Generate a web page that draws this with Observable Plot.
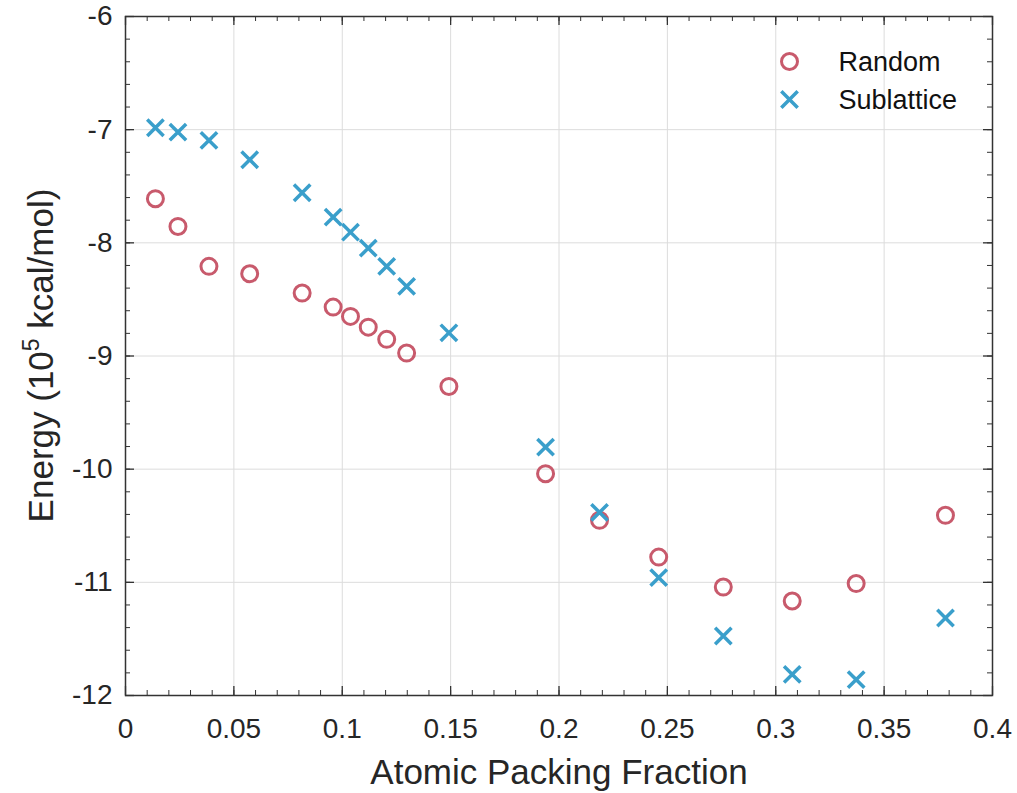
<!DOCTYPE html>
<html><head><meta charset="utf-8">
<script src="https://cdn.jsdelivr.net/npm/d3@7"></script>
<script src="https://cdn.jsdelivr.net/npm/@observablehq/plot@0.6"></script>
<style>body{margin:0;background:#fff}svg{display:block}</style>
</head><body><div id="chart"></div>
<script>
const packing = [0.0138, 0.0242, 0.0385, 0.0573, 0.0815, 0.0958, 0.1038, 0.112, 0.1205, 0.1297, 0.1492, 0.1938, 0.2187, 0.246, 0.2758, 0.3076, 0.3371, 0.3783];
const randomE = [-7.61, -7.855, -8.208, -8.273, -8.444, -8.568, -8.65, -8.745, -8.853, -8.974, -9.269, -10.04, -10.452, -10.777, -11.042, -11.165, -11.011, -10.408];
const sublatticeE = [-6.983, -7.022, -7.095, -7.266, -7.557, -7.773, -7.906, -8.047, -8.208, -8.385, -8.795, -9.805, -10.382, -10.958, -11.474, -11.813, -11.86, -11.315];
const xTicks = [0, 0.05, 0.1, 0.15, 0.2, 0.25, 0.3, 0.35, 0.4];
const yTicks = [-12, -11, -10, -9, -8, -7, -6];
const xMinor = d3.range(0, 41).map(i => i / 100);
const yMinor = d3.range(0, 31).map(i => -12 + i * 0.2);
const seriesNames = ["Random", "Sublattice"];
const colors = ["#c85a6c", "#3a9fcb"];

const font = "Liberation Sans, Arial, Helvetica, sans-serif";
const randomData = packing.map((x, i) => ({x, y: randomE[i]}));
const subData = packing.map((x, i) => ({x, y: sublatticeE[i]}));
const axisColor = "#333333";

const plot = Plot.plot({
  width: 1017, height: 793,
  marginLeft: 125, marginRight: 25, marginTop: 16, marginBottom: 98,
  style: {fontFamily: font, fontSize: "28px", color: "#262626", background: "#fff"},
  x: {domain: [0, 0.4]},
  y: {domain: [-12, -6]},
  marks: [
    Plot.gridX(xTicks, {stroke: "#dcdcdc", strokeOpacity: 1, strokeWidth: 1}),
    Plot.gridY(yTicks, {stroke: "#dcdcdc", strokeOpacity: 1, strokeWidth: 1}),
    Plot.axisX(xTicks, {tickFormat: d => String(d), tickSize: 0, tickPadding: 23, fontSize: 28, fill: "#262626", label: null}),
    Plot.axisY(yTicks, {tickFormat: d => String(d), tickSize: 0, tickPadding: 13, fontSize: 28, fill: "#262626", label: null}),
    // minor ticks (inward)
    Plot.ruleX(xMinor, {x: d => d, insetTop: 679 - 5, stroke: axisColor, strokeWidth: 1}),
    Plot.ruleX(xMinor, {x: d => d, insetBottom: 679 - 5, stroke: axisColor, strokeWidth: 1}),
    Plot.ruleY(yMinor, {y: d => d, insetRight: 867 - 5, stroke: axisColor, strokeWidth: 1}),
    Plot.ruleY(yMinor, {y: d => d, insetLeft: 867 - 5, stroke: axisColor, strokeWidth: 1}),
    // major ticks
    Plot.ruleX(xTicks, {x: d => d, insetTop: 679 - 9, stroke: axisColor, strokeWidth: 1.3}),
    Plot.ruleX(xTicks, {x: d => d, insetBottom: 679 - 9, stroke: axisColor, strokeWidth: 1.3}),
    Plot.ruleY(yTicks, {y: d => d, insetRight: 867 - 9, stroke: axisColor, strokeWidth: 1.3}),
    Plot.ruleY(yTicks, {y: d => d, insetLeft: 867 - 9, stroke: axisColor, strokeWidth: 1.3}),
    Plot.frame({stroke: axisColor, strokeWidth: 1.5}),
    Plot.dot(randomData, {x: "x", y: "y", r: 8, stroke: colors[0], strokeWidth: 3, symbol: "circle"}),
    Plot.dot(subData, {x: "x", y: "y", r: 7.5, stroke: colors[1], strokeWidth: 3.5, symbol: "times"}),
    // legend
    Plot.dot([seriesNames[0]], {frameAnchor: "top-right", dx: -203, dy: 45, r: 8, stroke: colors[0], strokeWidth: 3, symbol: "circle"}),
    Plot.dot([seriesNames[1]], {frameAnchor: "top-right", dx: -203, dy: 83, r: 7.5, stroke: colors[1], strokeWidth: 3.5, symbol: "times"}),
    Plot.text([seriesNames[0]], {text: d => d, frameAnchor: "top-right", dx: -154, dy: 46, textAnchor: "start", lineAnchor: "middle", fontSize: 27, fill: "#111"}),
    Plot.text([seriesNames[1]], {text: d => d, frameAnchor: "top-right", dx: -154, dy: 84, textAnchor: "start", lineAnchor: "middle", fontSize: 27, fill: "#111"}),
    Plot.text(["Atomic Packing Fraction"], {text: d => d, frameAnchor: "bottom", dy: 77, lineAnchor: "middle", fontSize: 35, fill: "#262626"})
  ]
});
document.getElementById("chart").append(plot);

// y axis label with superscript
const svg = d3.select(plot);
const yl = svg.append("text")
  .attr("transform", `translate(53, ${(16 + 695) / 2}) rotate(-90)`)
  .attr("text-anchor", "middle")
  .attr("font-family", font)
  .attr("font-size", 35)
  .attr("fill", "#262626");
yl.append("tspan").text("Energy (10");
yl.append("tspan").attr("font-size", 23).attr("dy", -14).text("5");
yl.append("tspan").attr("dy", 14).text(" kcal/mol)");
</script>
</body></html>
